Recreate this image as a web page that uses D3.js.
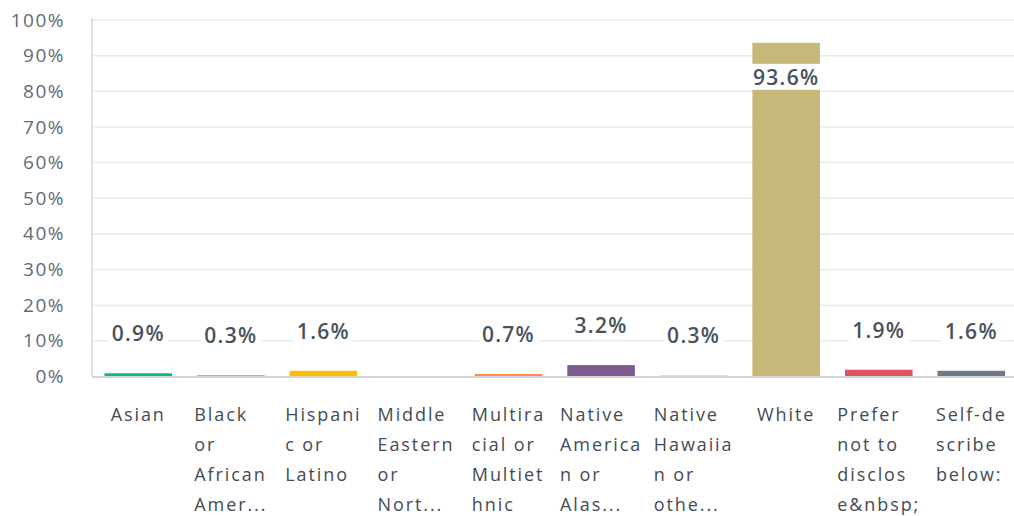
<!DOCTYPE html>
<html>
<head>
<meta charset="utf-8">
<script src="https://cdn.jsdelivr.net/npm/d3@7"></script>
<style>
  html, body { margin: 0; padding: 0; background: #fff; }
  svg { display: block; }
  text { font-family: "Open Sans", "Noto Sans", sans-serif; }
</style>
</head>
<body>
<svg id="chart" width="1014" height="516"></svg>
<script>
// Answer categories, as they appear in the survey
const categories = [
  "Asian",
  "Black or African American",
  "Hispanic or Latino",
  "Middle Eastern or North African",
  "Multiracial or Multiethnic",
  "Native American or Alaska Native",
  "Native Hawaiian or other Pacific Islander",
  "White",
  "Prefer not to disclose&nbsp;",
  "Self-describe below:"
];

// Share of respondents (percent); null = no label shown
const values = [0.9, 0.3, 1.6, 0, 0.7, 3.2, 0.3, 93.6, 1.9, 1.6];
const valueLabels = ["0.9%", "0.3%", "1.6%", null, "0.7%", "3.2%", "0.3%", "93.6%", "1.9%", "1.6%"];

// Wrapped/truncated axis labels, one array of lines per category
const tickLines = [
  ["Asian"],
  ["Black", "or", "African", "Amer..."],
  ["Hispani", "c or", "Latino"],
  ["Middle", "Eastern", "or", "Nort..."],
  ["Multira", "cial or", "Multiet", "hnic"],
  ["Native", "America", "n or", "Alas..."],
  ["Native", "Hawaiia", "n or", "othe..."],
  ["White"],
  ["Prefer", "not to", "disclos", "e&nbsp;"],
  ["Self-de", "scribe", "below:"]
];

// Y axis ticks
const yTicks = [0, 10, 20, 30, 40, 50, 60, 70, 80, 90, 100];

// Bar colours per category
const colors = ["#00bf6f", "#507cb6", "#f9be00", "#6bc8cd", "#ff8b4f",
                "#7d5b90", "#9dd4cf", "#c7b879", "#e05263", "#6c7a89"];

const svg = d3.select("#chart");
const W = 1014;
const margin = { top: 20, left: 92, bottom: 376.5 };

const x = d3.scaleBand()
  .domain(categories)
  .range([margin.left, margin.left + 925.6])
  .paddingInner(0.27)
  .paddingOuter(0.135);

const y = d3.scaleLinear().domain([0, 100]).range([margin.bottom, margin.top]);

// Gridlines
svg.append("g")
  .selectAll("line")
  .data(yTicks.filter(d => d > 0))
  .join("line")
  .attr("x1", margin.left).attr("x2", W)
  .attr("y1", d => y(d)).attr("y2", d => y(d))
  .attr("stroke", "#ebebeb").attr("stroke-width", 1.5);

// Y axis tick labels
const yAxis = svg.append("g")
  .attr("transform", `translate(${margin.left},0)`)
  .call(d3.axisLeft(y).tickValues(yTicks).tickFormat(d => d + "%").tickSize(0).tickPadding(27));
yAxis.select(".domain").remove();
yAxis.selectAll("text")
  .attr("fill", "#5f6b75")
  .style("font-size", "19px")
  .style("letter-spacing", "1.5px");

// Left axis line
svg.append("line")
  .attr("x1", margin.left).attr("x2", margin.left)
  .attr("y1", margin.top - 2).attr("y2", margin.bottom)
  .attr("stroke", "#d9d9d9").attr("stroke-width", 1.5);

// Bars
svg.append("g")
  .selectAll("rect")
  .data(categories)
  .join("rect")
  .attr("x", d => x(d))
  .attr("width", x.bandwidth())
  .attr("y", (d, i) => y(values[i]))
  .attr("height", (d, i) => y(0) - y(values[i]))
  .attr("fill", (d, i) => colors[i]);

// Baseline
svg.append("line")
  .attr("x1", margin.left).attr("x2", W)
  .attr("y1", margin.bottom + 0.5).attr("y2", margin.bottom + 0.5)
  .attr("stroke", "#d4d4d4").attr("stroke-width", 2);

// Value labels with white backing
const labelG = svg.append("g");
categories.forEach((c, i) => {
  if (valueLabels[i] == null) return;
  const top = y(values[i]);
  const cy = (top - 40 < margin.top) ? top + 34 : top - 40;
  const cx = x(c) + x.bandwidth() / 2;
  const t = labelG.append("text")
    .attr("x", cx).attr("y", cy)
    .attr("text-anchor", "middle")
    .attr("dominant-baseline", "central")
    .attr("fill", "#48525b")
    .style("font-size", "21px")
    .style("font-weight", 600)
    .style("letter-spacing", "1.3px")
    .text(valueLabels[i]);
  const bb = t.node().getBBox();
  labelG.insert("rect", () => t.node())
    .attr("x", bb.x - 3).attr("y", bb.y + 1)
    .attr("width", bb.width + 6).attr("height", bb.height - 2)
    .attr("fill", "#fff");
});

// Category labels: block centred under the band, lines left-aligned
const catG = svg.append("g");
categories.forEach((c, i) => {
  const t = catG.append("text")
    .attr("fill", "#434b53")
    .style("font-size", "18px")
    .style("letter-spacing", "1.9px");
  tickLines[i].forEach((line, k) => {
    t.append("tspan").attr("x", 0).attr("y", 421 + k * 30).text(line);
  });
  const w = t.node().getBBox().width;
  t.attr("transform", `translate(${x(c) + x.bandwidth() / 2 - w / 2},0)`);
});
</script>
</body>
</html>
